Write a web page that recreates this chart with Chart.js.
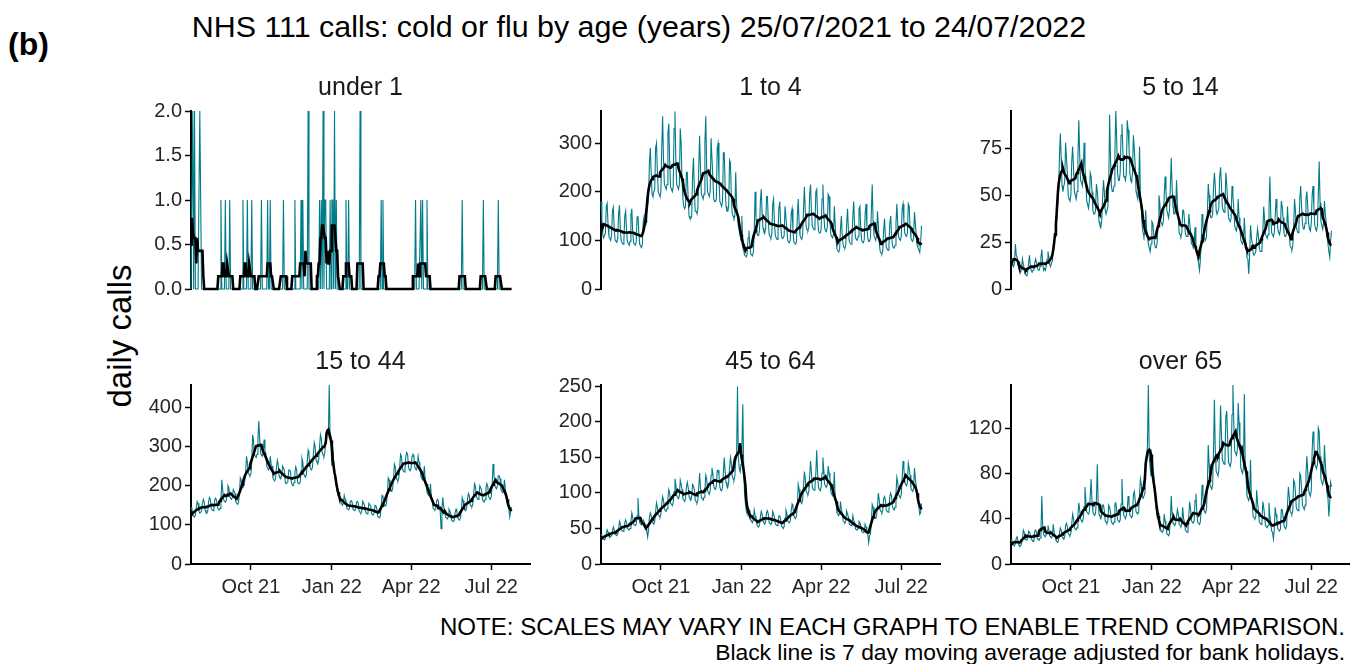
<!DOCTYPE html>
<html>
<head>
<meta charset="utf-8">
<script src="https://cdn.jsdelivr.net/npm/chart.js@4.4.0/dist/chart.umd.min.js"></script>
<style>
  html, body { margin: 0; padding: 0; background: #fff; }
  #page { position: relative; width: 1350px; height: 664px; overflow: hidden; font-family: "Liberation Sans", Arial, sans-serif; color: #000; }
  #page canvas { position: absolute; }
  #tag { position: absolute; left: 8px; top: 28px; font-size: 32px; line-height: 32px; font-weight: bold; }
  #title { position: absolute; left: 0; width: 1278px; top: 11px; text-align: center; font-size: 30.4px; line-height: 30.4px; white-space: nowrap; }
  #ylab { position: absolute; left: 119px; top: 336px; transform: translate(-50%, -50%) rotate(-90deg); font-size: 33px; line-height: 33px; white-space: nowrap; }
  .note { position: absolute; right: 5px; white-space: nowrap; }
</style>
</head>
<body>
<div id="page">
  <div id="tag">(b)</div>
  <div id="title">NHS 111 calls: cold or flu by age (years) 25/07/2021 to 24/07/2022</div>
  <div id="ylab">daily calls</div>
  <div class="note" style="top:615px; font-size:24.1px; line-height:24.1px">NOTE: SCALES MAY VARY IN EACH GRAPH TO ENABLE TREND COMPARISON.</div>
  <div class="note" style="top:641px; font-size:22.85px; line-height:22.85px">Black line is 7 day moving average adjusted for bank holidays.</div>
</div>
<script>
// day 0 = Sun 25/07/2021, one row per week (Sun..Sat), last value = 24/07/2022
const panelTitles = ['under 1', '1 to 4', '5 to 14', '15 to 44', '45 to 64', 'over 65']

const xTickDays = [68, 160, 250, 341]
const xTickLabels = ['Oct 21', 'Jan 22', 'Apr 22', 'Jul 22']

// under 1: only the days that had calls
const under1EventDays = [2, 4, 10, 11, 34, 39, 44, 59, 64, 69, 80, 87, 90, 105, 118, 125, 127, 133,
  146, 148, 150, 152, 153, 158, 160, 161, 163, 165, 176, 179, 192, 216, 218, 255, 261, 263, 268, 308, 332, 349]
const under1EventCounts = [2, 2, 2, 1, 1, 1, 1, 1, 1, 1, 1, 1, 1, 1, 1, 1, 1, 2,
  1, 1, 2, 1, 1, 1, 1, 1, 2, 1, 1, 1, 2, 1, 1, 1, 1, 1, 1, 1, 1, 1]

const oneToFour = [
  180,140,112,105,110,115,170, 176,132,108,104,100,110,160, 168,125,100,98,96,104,155, 172,120,98,95,92,100,150,
  160,122,96,94,90,98,152, 165,118,95,92,90,97,148, 150,115,92,88,85,92,140, 150,140,130,150,170,190,260,
  290,240,195,190,200,205,290, 300,245,200,195,190,200,290, 355,265,215,210,205,215,320, 340,260,210,205,200,210,330,
  365,265,215,210,205,215,330, 300,225,185,170,165,170,240, 240,185,150,145,145,150,230, 270,205,160,160,155,165,250,
  315,245,195,190,185,195,300, 355,250,200,195,190,200,310, 310,230,185,180,180,185,290, 300,225,180,175,170,180,280,
  280,210,170,160,160,170,265, 260,195,155,150,145,150,240, 175,150,130,120,110,100,150, 95,80,70,68,66,72,105,
  120,90,72,70,68,75,115, 200,150,115,110,110,120,180, 205,155,125,118,115,125,190, 190,140,112,108,105,112,175,
  185,135,110,105,102,110,165, 180,138,108,104,105,110,170, 170,125,100,96,95,102,155, 165,120,97,94,92,98,150,
  185,135,110,105,102,110,165, 210,160,128,122,120,128,195, 215,160,130,125,122,130,200, 205,150,120,115,115,122,185,
  215,158,125,120,118,128,195, 190,140,112,108,105,112,170, 130,100,82,78,76,82,125, 150,110,90,85,84,90,135,
  165,120,97,94,92,98,150, 180,132,106,102,100,108,165, 170,125,100,96,95,102,155, 175,128,104,98,98,105,158,
  215,140,110,105,100,110,160, 130,95,78,74,72,78,120, 145,108,86,82,80,88,135, 150,110,90,85,84,90,135,
  175,132,108,102,100,108,165, 175,140,115,110,108,115,175, 170,128,104,100,98,105,158, 135,110,90,85,80,75,95,
  130
]

const fiveToFourteen = [
  16,14,13,12,14,24,18, 17,13,11,10,9,11,16, 13,11,8,8,7,9,14, 18,12,10,9,10,11,14,
  16,14,11,10,10,12,17, 21,14,10,11,10,12,16, 20,17,13,12,14,15,21, 25,28,32,38,45,52,70,
  83,70,55,52,55,57,78, 70,62,50,48,47,50,68, 76,65,52,50,48,52,70, 90,72,58,57,55,60,78,
  65,58,47,45,43,47,62, 60,52,42,40,40,42,56, 52,45,36,34,33,36,48, 58,52,42,40,40,44,55,
  93,70,55,52,52,55,72, 95,80,62,58,58,62,82, 88,75,60,60,58,62,90, 85,76,62,58,57,62,82,
  75,66,52,50,48,52,76, 50,44,34,30,28,30,42, 32,28,24,22,20,24,36, 35,30,24,22,22,25,34,
  50,46,36,35,34,36,50, 60,52,42,40,38,42,55, 70,54,44,40,40,42,58, 45,38,30,29,28,30,42,
  42,37,30,28,28,30,40, 35,30,24,24,22,24,33, 22,20,16,14,10,15,24, 40,35,28,27,26,28,40,
  56,50,40,38,38,40,54, 62,55,42,40,40,43,60, 65,56,44,42,41,44,62, 56,48,38,37,36,38,55,
  50,43,34,32,31,34,48, 38,33,26,25,24,26,38, 28,22,17,16,8,18,34, 28,24,19,18,18,20,27,
  32,28,22,20,20,22,30, 44,37,29,28,27,29,42, 60,40,30,29,28,30,38, 48,42,32,30,29,32,47,
  44,38,30,28,28,30,44, 34,30,23,22,21,23,33, 48,42,33,31,30,33,48, 55,44,35,32,32,35,48,
  52,44,35,32,31,35,50, 55,44,34,32,31,34,50, 68,46,36,34,32,35,47, 40,35,28,24,20,17,26,
  31
]

const fifteenToFortyFour = [
  145,140,125,122,120,125,145, 160,155,135,130,132,135,155, 165,158,138,132,130,135,160, 170,165,142,138,136,142,165,
  168,162,145,140,138,142,162, 215,190,165,160,158,162,180, 200,195,172,168,165,170,190, 185,180,158,155,152,158,180,
  220,215,195,198,200,210,230, 275,260,232,228,225,230,260, 330,315,280,275,272,280,320, 365,320,285,278,275,285,318,
  290,280,250,245,240,245,275, 255,250,220,215,212,218,245, 265,255,225,220,218,225,250, 245,240,210,205,205,210,240,
  240,235,208,202,200,208,235, 248,240,210,205,205,210,238, 270,260,230,225,222,228,260, 290,280,248,242,240,248,280,
  310,300,265,260,255,265,300, 330,320,285,278,275,285,320, 335,340,330,457,320,300,250, 290,260,230,215,200,185,175,
  180,172,160,155,150,155,175, 165,160,142,140,138,142,160, 162,158,140,138,136,140,158, 160,155,136,132,130,136,160,
  155,150,135,130,128,132,155, 152,148,130,126,125,130,150, 148,142,122,120,118,122,150, 175,172,155,150,148,155,180,
  220,215,192,186,185,192,220, 255,248,220,215,212,220,248, 280,275,245,238,235,242,275, 285,280,248,240,238,245,275,
  280,278,250,242,240,248,275, 260,252,225,218,215,222,250, 215,205,182,178,175,182,205, 170,162,142,140,138,142,162,
  165,160,140,136,90,142,170, 145,138,120,118,115,120,140, 135,128,112,110,108,112,132, 140,132,118,114,112,118,135,
  170,162,142,138,136,142,165, 180,175,152,148,146,152,180, 205,198,172,168,165,172,200, 195,188,165,160,158,165,195,
  205,198,172,168,165,172,200, 255,232,200,195,192,200,225, 225,218,190,185,182,188,215, 190,178,160,150,140,120,135,
  145
]

const fortyFiveToSixtyFour = [
  42,40,36,35,34,36,42, 48,45,40,38,38,40,46, 52,48,42,41,40,42,50, 60,56,48,47,46,48,58,
  62,58,50,49,48,50,60, 72,66,56,55,54,56,68, 93,68,58,56,55,58,62, 60,56,48,46,38,48,66,
  72,68,60,58,56,60,74, 86,80,70,68,66,70,85, 95,90,78,75,74,78,92, 105,100,86,84,82,86,102,
  120,112,96,94,92,96,118, 112,105,92,90,88,92,108, 115,108,95,92,90,95,112, 110,105,90,88,86,90,108,
  128,108,94,92,90,94,104, 125,120,104,100,98,104,125, 135,128,110,106,105,110,132, 132,125,108,104,103,108,130,
  150,130,115,110,108,115,135, 150,142,124,120,118,124,145, 150,250,150,135,130,140,160, 225,140,100,85,75,70,80,
  80,74,62,60,58,62,76, 68,64,55,53,52,55,66, 74,70,60,58,56,60,72, 75,70,58,57,56,58,74,
  70,66,56,55,54,56,68, 68,63,53,52,50,53,65, 76,72,61,59,58,61,75, 84,80,68,65,64,68,82,
  112,105,90,87,85,90,110, 130,120,102,100,98,102,125, 145,128,108,105,104,108,128, 160,128,108,105,103,108,128,
  150,132,112,110,108,112,138, 128,120,102,98,96,102,130, 90,85,72,70,68,72,88, 76,72,61,59,58,61,75,
  70,66,56,55,54,56,68, 62,58,50,48,48,50,60, 58,54,46,45,44,46,56, 52,48,42,30,40,42,58,
  84,80,68,65,64,68,82, 100,90,76,74,72,76,92, 95,90,76,74,73,76,95, 100,95,80,78,76,80,100,
  122,115,98,95,93,98,120, 145,135,115,112,110,115,142, 135,125,106,104,102,106,135, 120,110,95,88,80,70,72,
  85
]

const overSixtyFive = [
  22,20,17,17,16,18,23, 24,20,17,16,16,18,22, 30,28,22,22,21,23,29, 28,26,22,21,20,22,29,
  30,28,22,22,21,23,29, 60,34,26,25,24,26,30, 34,30,25,24,23,25,35, 28,25,21,20,19,21,27,
  32,30,24,23,22,24,34, 36,33,27,26,25,27,36, 44,40,32,31,30,32,43, 54,48,40,38,37,40,51,
  68,56,46,45,44,46,60, 75,55,46,44,43,45,56, 88,54,44,42,40,44,52, 52,47,38,37,36,38,52,
  50,46,37,36,35,37,53, 54,48,39,38,37,39,53, 75,52,43,42,40,43,48, 60,53,43,42,41,43,61,
  64,57,46,45,44,46,62, 75,70,60,58,58,62,85, 95,105,158,95,85,78,90, 90,80,65,55,48,42,45,
  40,37,30,29,28,30,44, 38,34,27,26,25,27,40, 60,44,36,35,34,36,42, 48,44,35,34,33,35,50,
  40,37,30,29,28,30,44, 55,48,38,37,36,38,56, 62,46,37,36,35,37,48, 70,60,48,46,45,48,68,
  105,88,70,68,66,70,100, 145,100,82,80,78,82,105, 140,115,92,90,88,92,130, 135,112,90,88,86,90,132,
  158,125,100,98,96,100,142, 125,108,85,82,80,85,150, 88,76,60,58,56,60,92, 60,53,42,41,40,42,65,
  54,47,37,36,35,37,55, 50,43,34,33,32,34,54, 42,37,29,28,22,30,50, 44,39,31,30,29,31,48,
  48,42,34,32,31,34,52, 68,60,47,45,44,47,74, 72,64,50,48,47,50,80, 78,66,52,50,48,52,80,
  95,82,65,62,60,65,100, 117,108,88,86,84,88,120, 117,95,75,72,70,75,105, 88,76,62,58,42,55,72,
  68
]

const yMaxes = [2, 366, 95, 457, 252, 158]
const yTickSets = [[0, 0.5, 1, 1.5, 2], [0, 100, 200, 300], [0, 25, 50, 75], [0, 100, 200, 300, 400], [0, 50, 100, 150, 200, 250], [0, 40, 80, 120]]
const yDecimals = [1, 0, 0, 0, 0, 0]

const under1 = new Array(365).fill(0)
under1EventDays.forEach((d, i) => { under1[d] = under1EventCounts[i] })

const series = [under1, oneToFour, fiveToFourteen, fifteenToFortyFour, fortyFiveToSixtyFour, overSixtyFive]

// centred 7 day mean, shorter window at the ends
function movingAverage(vals) {
  return vals.map((_, i) => {
    let s = 0, n = 0
    for (let j = i - 3; j <= i + 3; j++) {
      if (j >= 0 && j < vals.length) { s += vals[j]; n++ }
    }
    return s / n
  })
}

const FONT = '"Liberation Sans", Arial, sans-serif'
const TEAL = '#007B8A'
const colLeft = [191, 601, 1011]
const rowTop = [111, 385]
const plotW = 339, plotH = 179, padL = 90, padT = 55

const page = document.getElementById('page')

series.forEach((vals, idx) => {
  const col = idx % 3, row = Math.floor(idx / 3)
  const bottomRow = row === 1
  const padB = bottomRow ? 45 : 14

  const canvas = document.createElement('canvas')
  canvas.width = padL + plotW + 2
  canvas.height = padT + plotH + padB
  canvas.style.left = (colLeft[col] - padL) + 'px'
  canvas.style.top = (rowTop[row] - padT) + 'px'
  page.appendChild(canvas)

  const ma = movingAverage(vals)

  new Chart(canvas.getContext('2d'), {
    type: 'line',
    data: {
      datasets: [
        { data: ma.map((v, i) => ({ x: i, y: v })), borderColor: '#000', borderWidth: 2.6, pointRadius: 0, clip: false },
        { data: vals.map((v, i) => ({ x: i, y: v })), borderColor: TEAL, borderWidth: 1.1, pointRadius: 0, clip: false }
      ]
    },
    options: {
      responsive: false,
      animation: false,
      devicePixelRatio: 1,
      layout: { padding: { left: 0, right: 2, top: 0, bottom: bottomRow ? 0 : 14 } },
      plugins: {
        legend: { display: false },
        tooltip: { enabled: false },
        title: {
          display: true,
          text: panelTitles[idx],
          fullSize: false,
          color: '#1a1a1a',
          font: { family: FONT, size: 25, weight: 'normal', lineHeight: 1.2 },
          padding: { top: 17, bottom: 8 }
        }
      },
      scales: {
        x: {
          type: 'linear',
          min: 0,
          max: 385,
          display: bottomRow,
          border: { display: true, color: '#000', width: 2 },
          grid: { display: true, drawOnChartArea: false, tickLength: 6, tickColor: '#000', tickWidth: 1.5 },
          ticks: {
            font: { family: FONT, size: 20 },
            color: '#262626',
            padding: 5,
            maxRotation: 0,
            autoSkip: false,
            callback: v => xTickLabels[xTickDays.indexOf(v)]
          },
          afterBuildTicks: s => { s.ticks = xTickDays.map(v => ({ value: v })) },
          afterFit: s => { s.height = bottomRow ? 45 : 0 }
        },
        y: {
          min: 0,
          max: yMaxes[idx],
          border: { display: true, color: '#000', width: 2 },
          grid: { display: true, drawOnChartArea: false, tickLength: 6, tickColor: '#000', tickWidth: 1.5 },
          ticks: {
            font: { family: FONT, size: 20 },
            color: '#262626',
            padding: 3,
            callback: v => v.toFixed(yDecimals[idx])
          },
          afterBuildTicks: s => { s.ticks = yTickSets[idx].map(v => ({ value: v })) },
          afterFit: s => { s.width = padL }
        }
      }
    }
  })
})
</script>
</body>
</html>
